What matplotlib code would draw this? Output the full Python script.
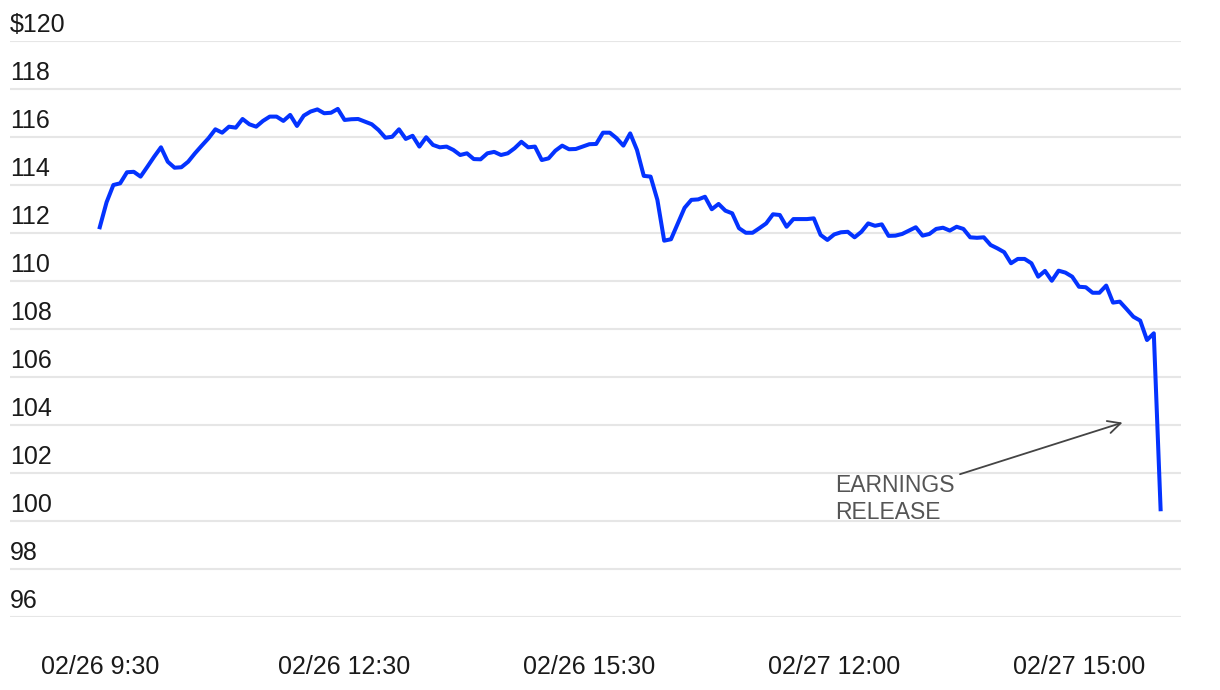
import matplotlib
matplotlib.use("Agg")
import matplotlib.pyplot as plt
import matplotlib.transforms as mtransforms
import pandas as pd

# ---- data ----
prices = [
    112.24, 113.28, 114.00, 114.07, 114.53, 114.55, 114.35, 114.76, 115.18, 115.57,
    114.97, 114.72, 114.74, 114.97, 115.32, 115.64, 115.95, 116.32, 116.18, 116.43,
    116.39, 116.75, 116.53, 116.43, 116.67, 116.85, 116.85, 116.67, 116.92, 116.46,
    116.89, 117.06, 117.15, 116.99, 117.01, 117.17, 116.71, 116.74, 116.75, 116.64,
    116.53, 116.29, 115.97, 116.01, 116.32, 115.92, 116.05, 115.60, 115.99, 115.67,
    115.57, 115.60, 115.46, 115.25, 115.32, 115.08, 115.07, 115.32, 115.38, 115.25,
    115.32, 115.53, 115.80, 115.57, 115.60, 115.04, 115.11, 115.43, 115.64, 115.49,
    115.50, 115.60, 115.70, 115.71, 116.18, 116.18, 115.95, 115.64, 116.15, 115.46,
    114.38, 114.35, 113.38, 111.68, 111.74, 112.40, 113.05, 113.38, 113.40, 113.51,
    112.99, 113.21, 112.93, 112.82, 112.20, 112.01, 112.01, 112.20, 112.40, 112.78,
    112.75, 112.26, 112.58, 112.58, 112.58, 112.61, 111.92, 111.71, 111.94, 112.03,
    112.05, 111.82, 112.05, 112.40, 112.30, 112.36, 111.88, 111.89, 111.96, 112.10,
    112.24, 111.89, 111.96, 112.17, 112.22, 112.10, 112.26, 112.17, 111.82, 111.80,
    111.82, 111.50, 111.36, 111.20, 110.74, 110.92, 110.92, 110.74, 110.18, 110.42,
    110.01, 110.43, 110.35, 110.18, 109.76, 109.74, 109.51, 109.51, 109.81, 109.10,
    109.14, 108.83, 108.51, 108.35, 107.54, 107.82, 100.49,
]
day1_times = pd.date_range("2024-02-26 09:30", "2024-02-26 16:00", freq="5min")
day2_times = pd.date_range("2024-02-27 09:35", "2024-02-27 16:00", freq="5min")
times = list(day1_times) + list(day2_times)

x_tick_times = ["2024-02-26 09:30", "2024-02-26 12:30", "2024-02-26 15:30",
                "2024-02-27 12:00", "2024-02-27 15:00"]
x_tick_labels = ["02/26 9:30", "02/26 12:30", "02/26 15:30", "02/27 12:00", "02/27 15:00"]
y_ticks = [96, 98, 100, 102, 104, 106, 108, 110, 112, 114, 116, 118, 120]
y_tick_labels = ["96", "98", "100", "102", "104", "106", "108", "110", "112",
                 "114", "116", "118", "$120"]
annotation_text = "EARNINGS\nRELEASE"

# ---- plot ----
plt.rcParams["font.family"] = ["Liberation Sans", "DejaVu Sans"]
fig = plt.figure(figsize=(12.2, 6.9), dpi=100)
ax = fig.add_axes([10 / 1220, 73 / 690, 1171 / 1220, 576 / 690])

xs = list(range(len(prices)))
ax.plot(xs, prices, color="#0433ff", lw=2.9, solid_joinstyle="round", zorder=3)

ax.set_ylim(96, 120)
ax.set_xlim(-13.2, 159.0)

for v in y_ticks:
    ax.axhline(v, color="#e6e6e6", lw=1.5, zorder=1)

ax.set_yticks([])
tick_pos = [times.index(pd.Timestamp(t)) for t in x_tick_times]
ax.set_xticks(tick_pos)
ax.set_xticklabels(x_tick_labels, fontsize=18, color="#1a1a1a")
ax.tick_params(axis="x", length=0, pad=27)

trans = mtransforms.blended_transform_factory(ax.transAxes, ax.transData)
offset = mtransforms.ScaledTranslation(0, 9 / 100, fig.dpi_scale_trans)
for v, lab in zip(y_ticks, y_tick_labels):
    ax.text(0, v, lab, transform=trans + offset, ha="left", va="baseline",
            fontsize=18, color="#1a1a1a")

for s in ax.spines.values():
    s.set_visible(False)

ax.text(108.2, 101.95, annotation_text, ha="left", va="top", fontsize=16.5,
        color="#555555", linespacing=1.2, zorder=4)
ax.annotate("", xy=(150.4, 104.1), xytext=(126.5, 101.95),
            arrowprops=dict(arrowstyle="->,head_length=0.9,head_width=0.45",
                            color="#444444", lw=1.3, shrinkA=0, shrinkB=0))

fig.savefig("out.png", dpi=100)
